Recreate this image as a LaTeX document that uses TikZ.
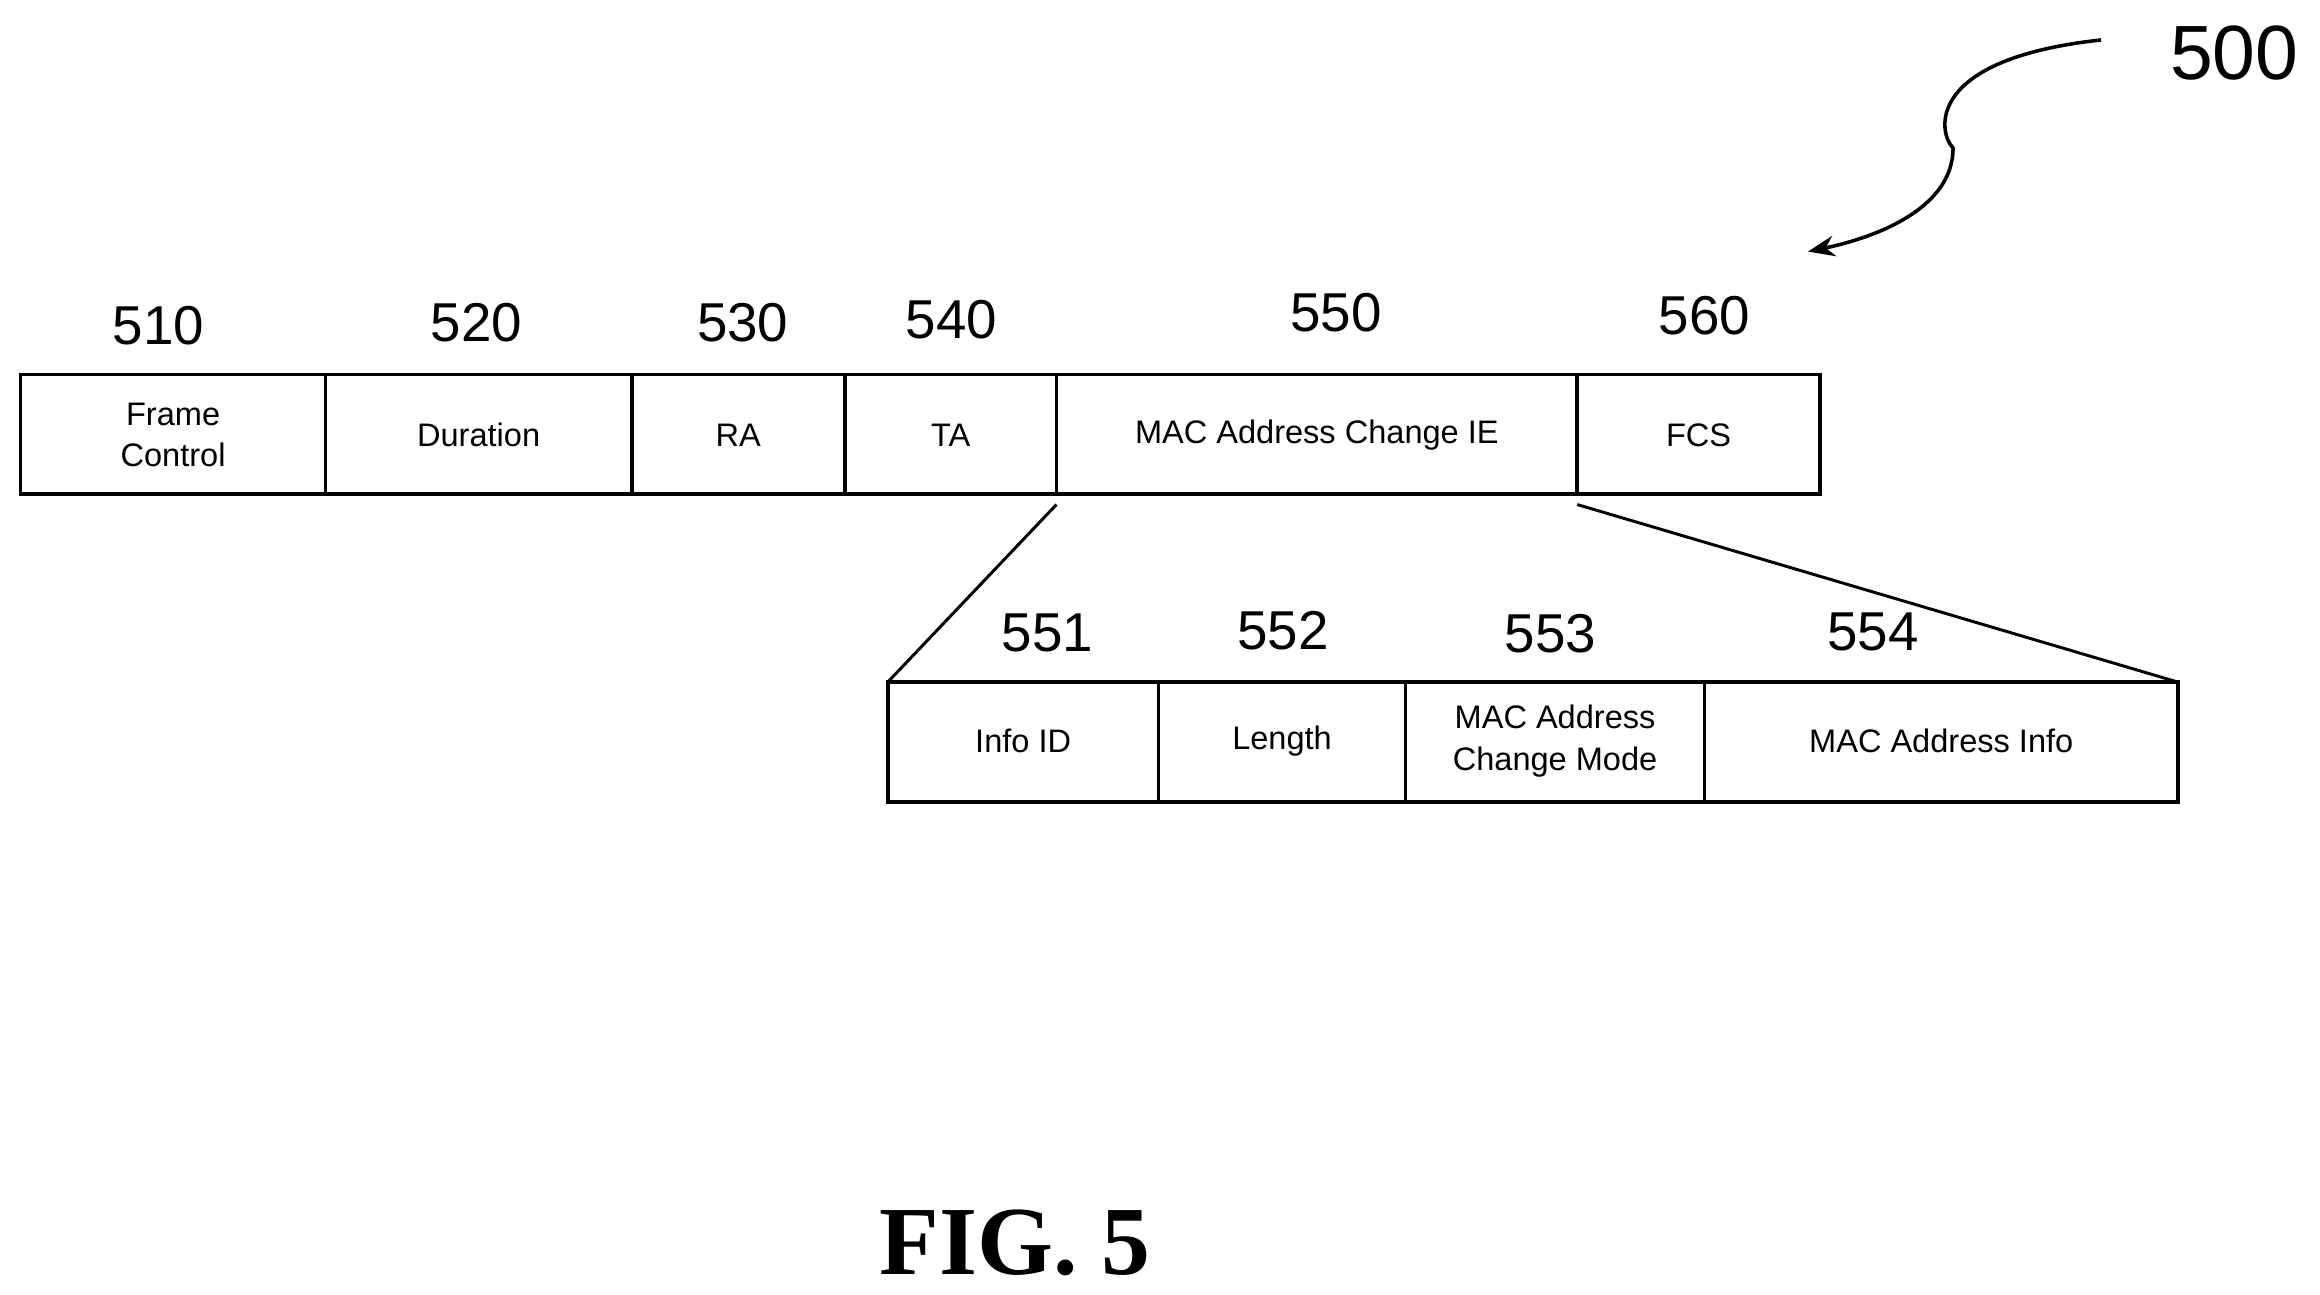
\documentclass[tikz,border=0pt]{standalone}
\usepackage{fontspec}
\setmainfont{Liberation Sans}
\newfontfamily\serifb{Liberation Serif}
\usetikzlibrary{arrows.meta}
\begin{document}
\begin{tikzpicture}[x=0.5pt,y=-0.5pt,
  fld/.style={draw,line width=1.2pt,font=\fontsize{11}{13}\selectfont,align=center},
  num/.style={font=\fontsize{18.5}{20}\selectfont}]
\useasboundingbox (0,0) rectangle (1568,874.6);
\foreach \a/\b/\n/\t in {14/220/f1/{Frame\\Control},220/427/f2/Duration,427/571/f3/RA,571/714/f4/TA,714/1066/f5/MAC Address Change IE,1066/1230/f6/FCS}{
  \draw[line width=1.2pt] (\a,253) rectangle (\b,334);
  \node[font=\fontsize{11}{14}\selectfont,align=center] (\n) at ({(\a+\b)/2},294) {\t};}
\foreach \a/\b/\n/\t in {600/783/g1/Info ID,783/950/g2/Length,950/1152/g3/{MAC Address\\Change Mode},1152/1472/g4/MAC Address Info}{
  \draw[line width=1.2pt] (\a,461) rectangle (\b,542);
  \node[font=\fontsize{11}{14}\selectfont,align=center] (\n) at ({(\a+\b)/2},501) {\t};}
\coordinate (p1) at (714,341); \coordinate (q1) at (600,461);
\coordinate (p2) at (1066,341); \coordinate (q2) at (1472,461);
\draw[line width=1pt] (p1) -- (q1);
\draw[line width=1pt] (p2) -- (q2);
\foreach \x/\y/\t in {107/220/510,322/218/520,502/218/530,643/216/540,903/211/550,1152/213/560,708/428/551,867/426/552,1048/428/553,1266/427/554}
  \node[num] (n\t) at (\x,\y) {\t};
\node[font=\fontsize{26}{28}\selectfont] (n500) at (1510,36) {500};
\coordinate (s) at (1420,27); \coordinate (e) at (1222,170);
\draw[line width=1.2pt,-{Stealth[length=9pt,width=7pt]}] (s) .. controls (1300,40) and (1310,90) .. (1320,100) .. controls (1320,140) and (1270,160) .. (e);
\node[font=\serifb\bfseries\fontsize{33}{35}\selectfont] (fig) at (686,840) {FIG. 5};
\end{tikzpicture}
\end{document}
